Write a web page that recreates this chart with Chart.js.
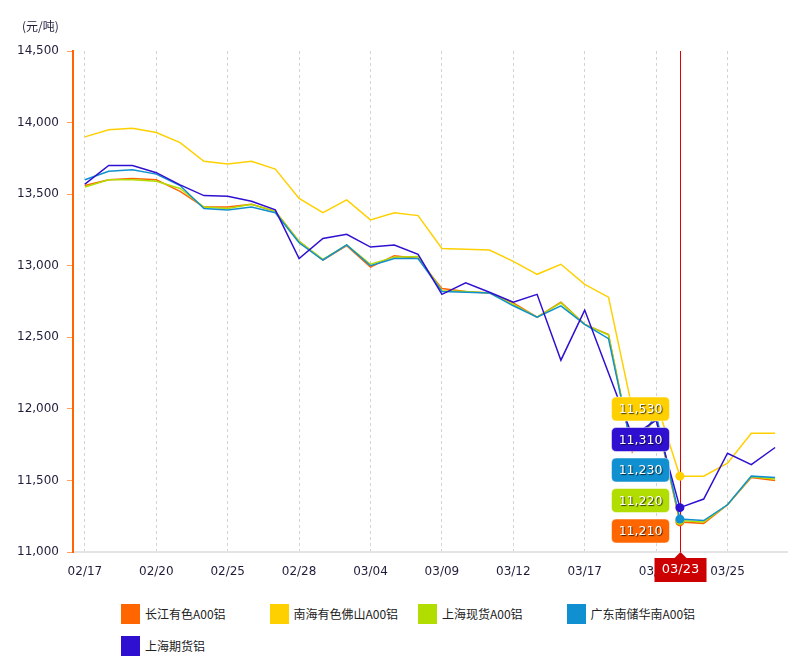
<!DOCTYPE html>
<html>
<head>
<meta charset="utf-8">
<script src="https://cdn.jsdelivr.net/npm/chart.js@4"></script>
<style>
  body { margin: 0; background: #fff; overflow: hidden; }
  #wrap { position: relative; width: 798px; height: 658px; }
  #Chart { position: absolute; left: 0; top: 0; }
  .lg { position: absolute; height: 20px; font: 12px "Noto Sans CJK SC", sans-serif; color: #222; white-space: nowrap; }
  .lg i { position: absolute; left: 0; top: 0; width: 19px; height: 20px; }
  .lg span { position: absolute; left: 24px; top: 1px; line-height: 18px; }
</style>
</head>
<body>
<div id="wrap">
  <canvas id="Chart" width="798" height="595"></canvas>
  <div id="legend"></div>
</div>
<script>
const dates = ['02/17','02/18','02/19','02/20','02/21','02/24','02/25','02/26','02/27','02/28',
               '03/02','03/03','03/04','03/05','03/06','03/09','03/10','03/11','03/12','03/13',
               '03/16','03/17','03/18','03/19','03/20','03/23','03/24','03/25','03/26','03/27'];

const changjiang = [13560,13600,13610,13600,13520,13410,13410,13430,13380,13170,
                    13040,13140,12990,13070,13050,12840,12820,12810,12740,12640,
                    12745,12590,12520,11700,11950,11210,11200,11330,11520,11500];
const nanhai     = [13900,13950,13960,13930,13860,13730,13710,13730,13675,13470,
                    13370,13460,13320,13370,13350,13120,13115,13110,13030,12940,
                    13010,12870,12780,12000,12050,11530,11530,11620,11830,11830];
const shXianhuo  = [13550,13600,13600,13590,13540,13410,13400,13430,13380,13170,
                    13045,13145,13010,13060,13065,12825,12820,12810,12730,12640,
                    12740,12590,12515,11710,11950,11220,11210,11330,11525,11510];
const guangdong  = [13600,13660,13670,13640,13560,13400,13390,13410,13370,13160,
                    13040,13145,13000,13050,13050,12820,12815,12810,12720,12640,
                    12720,12590,12490,11710,11960,11230,11220,11330,11530,11520];
const shQihuo    = [13570,13700,13700,13650,13565,13490,13485,13450,13390,13050,
                    13190,13220,13130,13145,13080,12800,12880,12815,12745,12800,
                    12340,12690,12250,11810,11920,11310,11370,11690,11610,11730];

const seriesNames  = ['长江有色A00铝','南海有色佛山A00铝','上海现货A00铝','广东南储华南A00铝','上海期货铝'];
const seriesData   = [changjiang, nanhai, shXianhuo, guangdong, shQihuo];
const seriesColors = ['#ff6600','#ffd000','#b2dd00','#1090d0','#3010d0'];
const drawOrder    = [5, 4, 3, 2, 1];

const yMin = 11000, yMax = 14500, yStep = 500;
const unitLabel = '(元/吨)';
const activeDate = '03/23';
const activeIdx = dates.indexOf(activeDate);

const tickFont = { family: 'DejaVu Sans', size: 12 };
const tickColor = '#1e1e3c';

function roundBox(ctx, x, y, w, h, r) {
    ctx.beginPath();
    ctx.moveTo(x + r, y);
    ctx.lineTo(x + w - r, y);
    ctx.quadraticCurveTo(x + w, y, x + w, y + r);
    ctx.lineTo(x + w, y + h - r);
    ctx.quadraticCurveTo(x + w, y + h, x + w - r, y + h);
    ctx.lineTo(x + r, y + h);
    ctx.quadraticCurveTo(x, y + h, x, y + h - r);
    ctx.lineTo(x, y + r);
    ctx.quadraticCurveTo(x, y, x + r, y);
    ctx.closePath();
}

// red crosshair + value labels for the active day
const crosshair = {
    id: 'crosshair',
    beforeDatasetsDraw(chart) {
        const { ctx, chartArea, scales } = chart;
        const px = Math.round(scales.x.getPixelForValue(activeIdx)) + 0.5;
        ctx.save();
        ctx.strokeStyle = '#e00000';
        ctx.lineWidth = 1;
        ctx.beginPath();
        ctx.moveTo(px, chartArea.top);
        ctx.lineTo(px, chartArea.bottom);
        ctx.stroke();
        ctx.restore();
    },
    afterDraw(chart) {
        const { ctx, chartArea, scales } = chart;
        const px = Math.round(scales.x.getPixelForValue(activeIdx)) + 0.5;

        ctx.save();
        // unit
        ctx.font = '12px "Noto Sans CJK SC"';
        ctx.fillStyle = tickColor;
        ctx.textBaseline = 'middle';
        ctx.textAlign = 'left';
        ctx.fillText(unitLabel, 22, 26);

        // value boxes, highest on top
        const items = seriesData.map((d, i) => ({ v: d[activeIdx], c: seriesColors[i] }))
            .sort((a, b) => b.v - a.v);
        const bw = 58, bh = 24, gap = 30.5;
        const right = px - 11;
        let cy = chartArea.bottom - 21 - (items.length - 1) * gap;
        ctx.font = '12.5px "DejaVu Sans"';
        ctx.textAlign = 'center';
        items.forEach(it => {
            roundBox(ctx, right - bw, cy - bh / 2, bw, bh, 5);
            ctx.fillStyle = it.c;
            ctx.fill();
            ctx.strokeStyle = 'rgba(255,255,255,0.5)';
            ctx.lineWidth = 1;
            ctx.stroke();
            ctx.save();
            ctx.shadowColor = 'rgba(0,0,0,0.75)';
            ctx.shadowOffsetX = 1;
            ctx.shadowOffsetY = 1;
            ctx.shadowBlur = 1;
            ctx.fillStyle = '#fff';
            ctx.fillText(it.v.toLocaleString('en-US'), right - bw / 2, cy + 1);
            ctx.restore();
            cy += gap;
        });

        // date box under the axis
        const top = chartArea.bottom + 6;
        ctx.fillStyle = '#cc0000';
        ctx.beginPath();
        ctx.moveTo(px - 6, top);
        ctx.lineTo(px, chartArea.bottom);
        ctx.lineTo(px + 6, top);
        ctx.closePath();
        ctx.fill();
        ctx.fillRect(px - 26, top, 52, 24);
        ctx.fillStyle = '#fff';
        ctx.font = '13px "DejaVu Sans"';
        ctx.fillText(activeDate, px, top + 12);
        ctx.restore();
    }
};

function main() {
    const ctx = document.getElementById('Chart');
    const datasets = seriesData.map((d, i) => ({
        label: seriesNames[i],
        data: d,
        borderColor: seriesColors[i],
        backgroundColor: seriesColors[i],
        borderWidth: 1.5,
        tension: 0,
        order: drawOrder[i],
        pointRadius: c => c.dataIndex === activeIdx ? 4.5 : 0,
        pointBorderWidth: 0,
        pointBackgroundColor: seriesColors[i]
    }));

    new Chart(ctx, {
        type: 'line',
        data: { labels: dates, datasets: datasets },
        options: {
            responsive: false,
            animation: false,
            events: [],
            layout: { padding: { top: 51, right: 11, left: 0, bottom: 0 } },
            plugins: { legend: { display: false }, tooltip: { enabled: false } },
            scales: {
                x: {
                    offset: true,
                    grid: {
                        offset: false,
                        drawTicks: false,
                        lineWidth: 1,
                        color: c => c.index % 3 === 0 ? '#d4d4d4' : 'rgba(0,0,0,0)'
                    },
                    border: { color: '#e4e4e4', width: 2, dash: [3, 3] },
                    ticks: {
                        autoSkip: false,
                        maxRotation: 0,
                        padding: 13,
                        font: tickFont,
                        color: tickColor,
                        callback: (v, i) => i % 3 === 0 ? dates[i] : ''
                    },
                    afterFit: s => { s.height = 43; }
                },
                y: {
                    min: yMin,
                    max: yMax,
                    grid: { drawOnChartArea: false, tickLength: 6, tickColor: '#ffa060', lineWidth: 1 },
                    border: { color: '#ff6600', width: 2 },
                    ticks: {
                        stepSize: yStep,
                        padding: 8,
                        font: tickFont,
                        color: tickColor,
                        callback: v => v.toLocaleString('en-US')
                    },
                    afterFit: s => { s.width = 73; }
                }
            }
        },
        plugins: [crosshair]
    });

    // legend in fixed columns
    const lg = document.getElementById('legend');
    seriesNames.forEach((name, i) => {
        const el = document.createElement('div');
        el.className = 'lg';
        el.style.left = (121 + (i % 4) * 148.5) + 'px';
        el.style.top = (604 + Math.floor(i / 4) * 32) + 'px';
        el.innerHTML = '<i style="background:' + seriesColors[i] + '"></i><span>' + name + '</span>';
        lg.appendChild(el);
    });
}

main();
</script>
</body>
</html>
